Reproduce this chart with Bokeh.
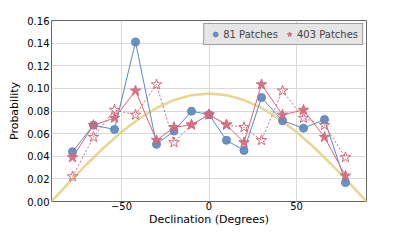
from bokeh.plotting import figure
from bokeh.models import FixedTicker, PrintfTickFormatter, Legend, LegendItem, Range1d
from bokeh.embed import file_html
from bokeh.resources import INLINE

# Declination bin centres (degrees)
dec = [-78, -66, -54, -42, -30, -20, -10, 0, 10, 20, 30, 42, 54, 66, 78]
p81 = [0.044, 0.0675, 0.0637, 0.141, 0.0506, 0.0623, 0.0798, 0.0768, 0.0541, 0.0451, 0.0919, 0.0714, 0.0648, 0.0724, 0.0167]
p403 = [0.039, 0.0675, 0.0738, 0.0979, 0.0541, 0.0656, 0.0678, 0.0768, 0.0678, 0.0522, 0.1034, 0.0766, 0.0809, 0.0569, 0.0227]
p403_flip = [0.0221, 0.0569, 0.0809, 0.0766, 0.1034, 0.0522, 0.0678, 0.0768, 0.0678, 0.0656, 0.0541, 0.0979, 0.0738, 0.0675, 0.039]

# Expected (isotropic) curve
curve_x = [-90, -80, -70, -60, -50, -40, -30, -20, -10, 0, 10, 20, 30, 40, 50, 60, 70, 80, 90]
curve_y = [0.0, 0.0166, 0.0327, 0.0478, 0.0614, 0.0732, 0.0827, 0.0897, 0.0940, 0.0955,
           0.0940, 0.0897, 0.0827, 0.0732, 0.0614, 0.0478, 0.0327, 0.0166, 0.0]

y_ticks = [0.0, 0.02, 0.04, 0.06, 0.08, 0.10, 0.12, 0.14, 0.16]
x_ticks = [-50, 0, 50]

BLUE = "#5b88c0"
RED = "#d3687b"
YELLOW = "#e6d083"
FONT = "DejaVu Sans"

p = figure(width=391, height=228, output_backend="svg", toolbar_location=None,
           x_range=Range1d(-90, 90), y_range=Range1d(0, 0.16),
           min_border_left=51, min_border_right=25, min_border_top=20, min_border_bottom=10)
p.background_fill_color = "white"
p.border_fill_color = "white"
p.outline_line_color = "#666666"
p.outline_line_width = 1

p.line(curve_x, curve_y, line_color=YELLOW, line_width=2.5, line_alpha=0.9)

p.line(dec, p81, line_color=BLUE, line_width=1)
s81 = p.scatter(dec, p81, marker="circle", size=8, fill_color=BLUE, line_color=BLUE, fill_alpha=0.9)

p.line(dec, p403_flip, line_color=RED, line_width=1, line_dash="2 2")
p.scatter(dec, p403_flip, marker="star", size=11, fill_color="white", fill_alpha=0.0,
          line_color=RED, line_width=1)

p.line(dec, p403, line_color=RED, line_width=1)
s403 = p.scatter(dec, p403, marker="star", size=11, fill_color=RED, line_color=RED, fill_alpha=0.9)

for ax in (p.xaxis[0], p.yaxis[0]):
    ax.axis_line_color = None
    ax.major_tick_in = 0
    ax.major_tick_out = 0
    ax.minor_tick_line_color = None
    ax.major_label_text_font = FONT
    ax.major_label_text_font_size = "10px"
    ax.major_label_text_color = "black"
    ax.axis_label_text_font = FONT
    ax.axis_label_text_font_size = "11px"
    ax.axis_label_text_font_style = "normal"
    ax.axis_label_text_color = "black"

p.xaxis.ticker = FixedTicker(ticks=x_ticks)
p.xaxis.major_label_overrides = {-50: "\u221250", 0: "0", 50: "50"}
p.xaxis.major_label_standoff = 0
p.xaxis.axis_label = "Declination (Degrees)"
p.xaxis.axis_label_standoff = 0

p.yaxis.ticker = FixedTicker(ticks=y_ticks)
p.yaxis.formatter = PrintfTickFormatter(format="%.2f")
p.yaxis.major_label_standoff = 2
p.yaxis.axis_label = "Probability"
p.yaxis.axis_label_standoff = 3

p.xgrid.ticker = FixedTicker(ticks=x_ticks)
p.ygrid.ticker = FixedTicker(ticks=y_ticks)
p.grid.grid_line_color = "#d9d9d9"
p.grid.grid_line_width = 1

legend = Legend(items=[LegendItem(label="81 Patches", renderers=[s81]),
                       LegendItem(label="403 Patches", renderers=[s403])],
                location="top_right", orientation="horizontal")
legend.margin = 3
legend.padding = 4
legend.spacing = 4
legend.label_standoff = 1
legend.glyph_width = 14
legend.glyph_height = 12
legend.label_text_font = FONT
legend.label_text_font_size = "10px"
legend.label_height = 11
legend.background_fill_color = "#e5e5e5"
legend.background_fill_alpha = 1.0
legend.border_line_color = "#555555"
legend.border_line_width = 1
p.add_layout(legend)

open("out.html", "w").write(file_html(p, INLINE))
